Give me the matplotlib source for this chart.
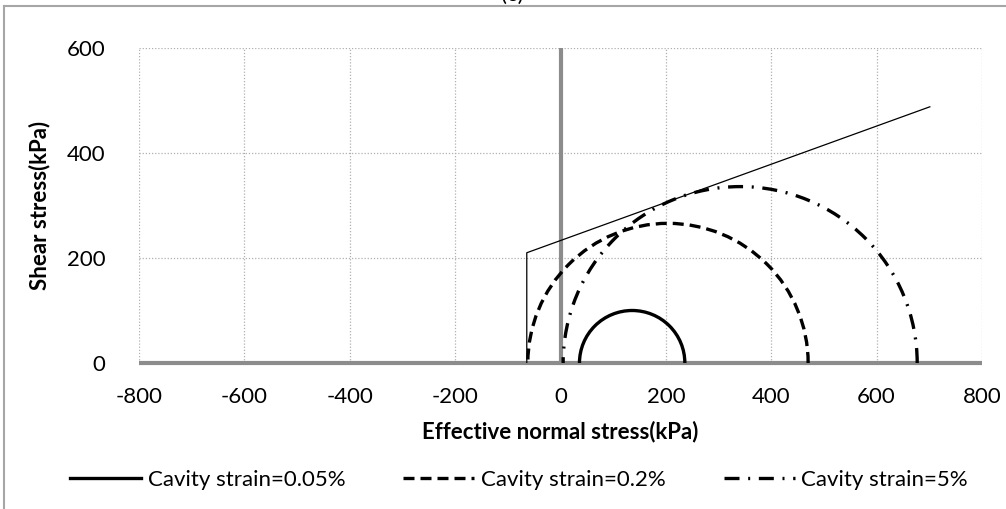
import matplotlib
matplotlib.use("Agg")
import matplotlib.pyplot as plt
from matplotlib.patches import Arc
from matplotlib.lines import Line2D

plt.rcParams['font.family'] = ['Lato', 'DejaVu Sans']
plt.rcParams['axes.unicode_minus'] = False

# Mohr circles (kPa): minor and major effective principal stresses
labels = ['Cavity strain=0.05%', 'Cavity strain=0.2%', 'Cavity strain=5%']
sigma3 = [36, -62, 5]
sigma1 = [236, 470, 677]

# failure envelope (thin line)
env_x = [-64, -64, 701]
env_y = [0, 210, 488]

x_ticks = [-800, -600, -400, -200, 0, 200, 400, 600, 800]
y_ticks = [0, 200, 400, 600]

W, H = 1006, 509
fs = 16
fig = plt.figure(figsize=(W / 100, H / 100), dpi=100)
ax = fig.add_axes([139 / W, 1 - 363 / H, 843 / W, 315 / H])

ax.set_xlim(-800, 800)
ax.set_ylim(0, 600)
ax.set_xticks(x_ticks)
ax.set_yticks(y_ticks)
ax.grid(True, color='#b0b0b0', linestyle=(0, (1, 1.5)), linewidth=0.9)
for s in ax.spines.values():
    s.set_visible(False)
ax.tick_params(length=0, labelsize=fs, colors='black')
ax.tick_params(axis='x', pad=17)
ax.tick_params(axis='y', pad=24)

# axis lines through origin
ax.plot([-800, 800], [0, 0], color='#8c8c8c', lw=3, solid_capstyle='butt', zorder=3, clip_on=False)
ax.plot([0, 0], [0, 600], color='#8c8c8c', lw=3, solid_capstyle='butt', zorder=3, clip_on=False)

# envelope
ax.plot(env_x, env_y, color='black', lw=0.9, zorder=4)

styles = ['-', (0, (3.3, 1.8)), (0, (4.5, 2.6, 0.6, 2.6))]
handles = []
for s3, s1, ls, lab in zip(sigma3, sigma1, styles, labels):
    c = (s1 + s3) / 2
    d = s1 - s3
    arc = Arc((c, 0), d, d, theta1=0, theta2=180, color='black', lw=2.4,
              linestyle=ls, zorder=5)
    arc.set_capstyle('butt')
    ax.add_patch(arc)
    handles.append(Line2D([], [], color='black', lw=2.4, linestyle=ls,
                          dash_capstyle='butt', label=lab))

ax.set_xlabel('Effective normal stress(kPa)', fontsize=fs, fontweight='bold', labelpad=10)
ax.set_ylabel('Shear stress(kPa)', fontsize=fs, fontweight='bold', labelpad=12)

fig.legend(handles=handles, loc='center', bbox_to_anchor=(519 / W, 1 - 480 / H), ncol=3,
           frameon=False, fontsize=fs, handlelength=3.2, handletextpad=0.3,
           columnspacing=2.6)

# chart border and partially visible panel title
fig.add_artist(Line2D([4 / W, 1], [1 - 6 / H, 1 - 6 / H], color='#a6a6a6', lw=1.5))
fig.add_artist(Line2D([4 / W, 4 / W], [0, 1 - 6 / H], color='#a6a6a6', lw=1.5))
fig.text(512 / W, 1 - 5 / H, '(c)', ha='center', va='bottom', fontsize=fs)

fig.savefig('out.png', dpi=100)
